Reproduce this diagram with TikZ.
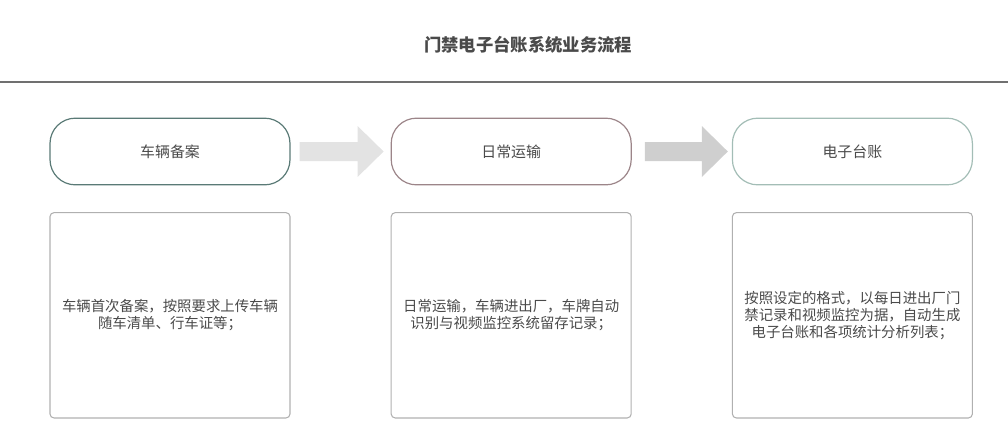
\documentclass[tikz,border=0pt]{standalone}
\usepackage{fontspec}
\setmainfont{Noto Sans CJK SC}
\usepackage{tikz}
\usetikzlibrary{positioning, calc}

\definecolor{textgray}{HTML}{4A4A4A}
\definecolor{rulegray}{HTML}{707070}
\definecolor{stageA}{HTML}{5A7A76}
\definecolor{stageB}{HTML}{9C8589}
\definecolor{stageC}{HTML}{A3BDB6}
\definecolor{descgray}{HTML}{B0B0B0}
\definecolor{arrowA}{HTML}{E3E3E3}
\definecolor{arrowB}{HTML}{CFCFCF}

\begin{document}
\begin{tikzpicture}[
    x=0.75pt, y=0.75pt,
    node distance=75pt,
    stage/.style={rectangle, draw, rounded corners=19pt, line width=0.9pt, minimum width=180pt, minimum height=50pt, inner sep=0pt, text=textgray, font=\fontsize{11.2pt}{13pt}\selectfont},
    desc/.style={rectangle, draw=descgray, rounded corners=3pt, line width=0.8pt, minimum width=180pt, minimum height=154pt, text width=170pt, align=center, inner sep=0pt, text=textgray, font=\fontsize{10.8pt}{12.8pt}\selectfont}
]
\useasboundingbox (0,0) rectangle (1008,-426);

% Titre
\node[font=\bfseries\fontsize{13pt}{15pt}\selectfont, text=textgray] (title) at (528,-45) {门禁电子台账系统业务流程};
\draw[rulegray, line width=1.5pt] (0,-82) -- (1008,-82);

% Etapes
\node[stage, draw=stageA] (reg) at (170,-151.5) {车辆备案};
\node[stage, draw=stageB, right=of reg] (trans) {日常运输};
\node[stage, draw=stageC, right=of trans] (ledger) {电子台账};

% Descriptions
\node[desc, below=20pt of reg] (regtext) {车辆首次备案，按照要求上传车辆\\随车清单、行车证等；};
\node[desc, below=20pt of trans] (transtext) {日常运输，车辆进出厂，车牌自动\\识别与视频监控系统留存记录；};
\node[desc, below=20pt of ledger] (ledgertext) {按照设定的格式，以每日进出厂门\\禁记录和视频监控为据，自动生成\\电子台账和各项统计分析列表；};

% Fleches
\fill[arrowA] ($(reg.east)+(9,9.5)$) -- ++(58,0) -- ++(0,16) -- ++(26,-25.5) -- ++(-26,-25.5) -- ++(0,16) -- ++(-58,0) -- cycle;
\fill[arrowB] ($(trans.east)+(13,9.5)$) -- ++(57,0) -- ++(0,16) -- ++(26,-25.5) -- ++(-26,-25.5) -- ++(0,16) -- ++(-57,0) -- cycle;

\end{tikzpicture}
\end{document}
